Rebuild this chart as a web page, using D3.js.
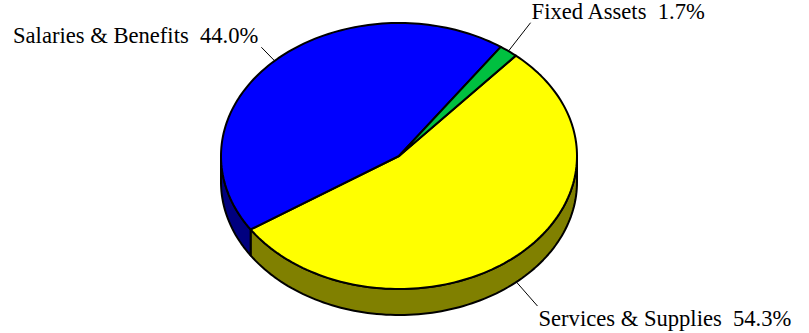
<!DOCTYPE html>
<html>
<head>
<meta charset="utf-8">
<script src="https://cdn.jsdelivr.net/npm/d3@7"></script>
<style>
  html, body { margin: 0; padding: 0; background: #fff; }
  svg { display: block; }
</style>
</head>
<body>
<svg id="chart" width="809" height="333"></svg>
<script>
// Budget shares by category (percent)
const categories = ["Services & Supplies", "Salaries & Benefits", "Fixed Assets"];
const shares = [54.3, 44.0, 1.7];
const shareLabels = ["54.3%", "44.0%", "1.7%"];

// Slice fills for the top face and the darker side wall
const topColors = ["#FFFF00", "#0000FF", "#00C040"];
const sideColors = ["#808000", "#000080", "#006020"];

// Geometry of the tilted pie
const cx = 399, cy = 156, rx = 178, ry = 133, depth = 26;
const startDeg = 41;
const labelFont = "'Liberation Serif', 'Times New Roman', Times, 'DejaVu Serif', serif";

const svg = d3.select("#chart");
const rad = d => d * Math.PI / 180;

const pie = d3.pie().sort(null).value(d => d)
  .startAngle(rad(startDeg)).endAngle(rad(startDeg + 360));
const arcs = pie(shares);

// Point on the ellipse rim for a d3 pie angle (0 = top, clockwise)
const rim = (a, dy = 0) => [cx + rx * Math.sin(a), cy - ry * Math.cos(a) + dy];

function rimPoints(a0, a1, dy) {
  const n = Math.max(2, Math.ceil(Math.abs(a1 - a0) / rad(1.5)));
  return d3.range(n + 1).map(i => rim(a0 + (a1 - a0) * i / n, dy));
}

const line = d3.line();

// Side wall: only the front half (pi/2 .. 3pi/2, mod 2pi) is visible
const sideG = svg.append("g");
arcs.forEach((d, i) => {
  [0, 2 * Math.PI].forEach(shift => {
    const lo = Math.max(d.startAngle, Math.PI / 2 + shift);
    const hi = Math.min(d.endAngle, 3 * Math.PI / 2 + shift);
    if (hi <= lo) return;
    const pts = rimPoints(lo, hi, 0).concat(rimPoints(hi, lo, depth));
    sideG.append("path")
      .attr("d", line(pts) + "Z")
      .attr("fill", sideColors[i])
      .attr("stroke", "#000")
      .attr("stroke-width", 2)
      .attr("stroke-linejoin", "round");
  });
});

// Top face slices
const topG = svg.append("g");
arcs.forEach((d, i) => {
  const pts = [[cx, cy]].concat(rimPoints(d.startAngle, d.endAngle, 0));
  topG.append("path")
    .attr("d", line(pts) + "Z")
    .attr("fill", topColors[i])
    .attr("stroke", "#000")
    .attr("stroke-width", 2)
    .attr("stroke-linejoin", "round");
});

// Leader lines and labels
const leaderLen = [32, 19, 36];
const labelG = svg.append("g");
arcs.forEach((d, i) => {
  const mid = (d.startAngle + d.endAngle) / 2;
  const front = Math.cos(mid) < 0;
  const p0 = rim(mid, front ? depth : 0);
  const ux = Math.sin(mid), uy = -Math.cos(mid);
  const p1 = [p0[0] + ux * leaderLen[i], p0[1] + uy * leaderLen[i]];
  labelG.append("line")
    .attr("x1", p0[0]).attr("y1", p0[1])
    .attr("x2", p1[0]).attr("y2", p1[1])
    .attr("stroke", "#000").attr("stroke-width", 1);
  const right = ux > 0;
  labelG.append("text")
    .attr("font-family", labelFont)
    .attr("font-size", 22.6)
    .attr("fill", "#000")
    .style("white-space", "pre")
    .attr("text-anchor", right ? "start" : "end")
    .attr("x", right ? p1[0] + 1 : p1[0] - 3)
    .attr("y", front ? p1[1] + 20 : p1[1] - 4)
    .text(categories[i] + "  " + shareLabels[i]);
});
</script>
</body>
</html>
